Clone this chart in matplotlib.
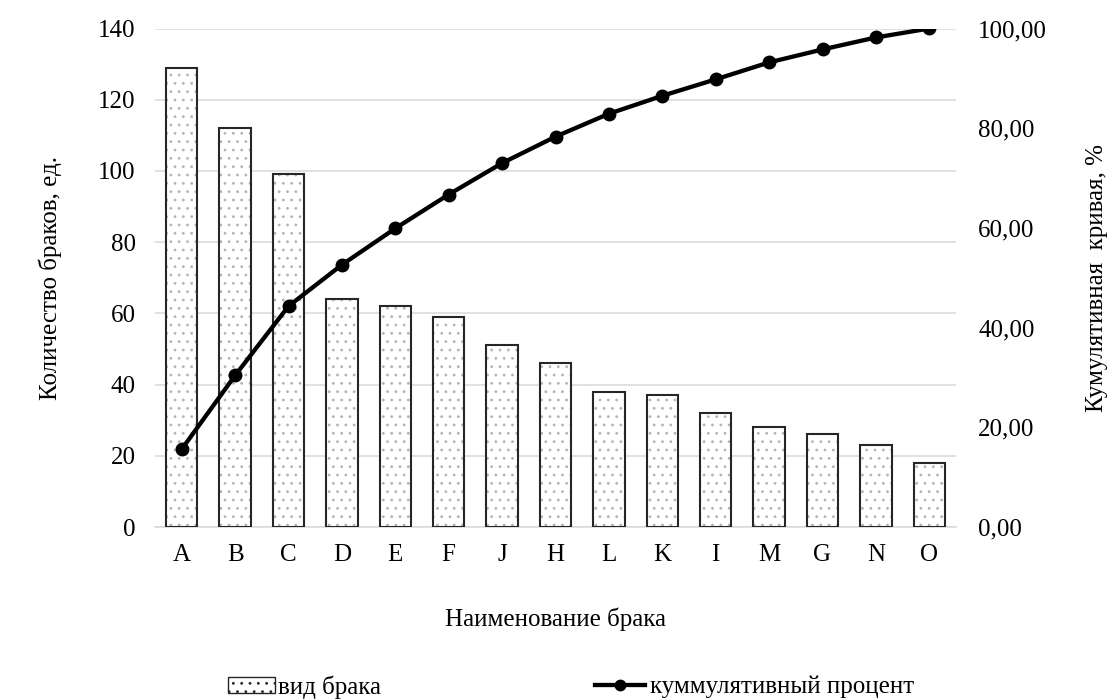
import matplotlib
matplotlib.use("Agg")
from matplotlib import pyplot as plt
from matplotlib.patches import Patch
from matplotlib.lines import Line2D
from matplotlib.ticker import FuncFormatter

# Данные диаграммы Парето
categories = ["A", "B", "C", "D", "E", "F", "J", "H", "L", "K", "I", "M", "G", "N", "O"]
counts = [129, 112, 99, 64, 62, 59, 51, 46, 38, 37, 32, 28, 26, 23, 18]
cum_percent = [15.6, 30.4, 44.3, 52.6, 59.9, 66.7, 73.0, 78.3, 82.9, 86.5,
               89.8, 93.2, 95.8, 98.2, 100.0]
left_ticks = [0, 20, 40, 60, 80, 100, 120, 140]
right_ticks = [0, 20, 40, 60, 80, 100]

plt.rcParams['font.family'] = ['Liberation Serif', 'DejaVu Serif']
plt.rcParams['hatch.linewidth'] = 0.8
FS = 18

fig = plt.figure(figsize=(11.15, 7.0), dpi=100)
ax = fig.add_axes([155 / 1115, 1 - 527 / 700, 801 / 1115, 498.5 / 700])
x = range(len(categories))

# штриховка точками (серая) + чёрный контур поверх
ax.bar(x, counts, width=0.59, color="white", edgecolor="#b4b4b4",
       linewidth=0, hatch="..", zorder=2)
ax.bar(x, counts, width=0.59, fill=False, edgecolor="#262626",
       linewidth=1.5, zorder=3)

ax.set_xlim(-0.5, len(categories) - 0.5)
ax.set_ylim(0, 140)
ax.set_yticks(left_ticks)
ax.set_xticks(list(x))
ax.set_xticklabels(categories)
ax.grid(axis="y", color="#d9d9d9", linewidth=1.1, zorder=0)
ax.set_axisbelow(True)
for s in ["top", "right", "left"]:
    ax.spines[s].set_visible(False)
ax.spines["bottom"].set_color("#d9d9d9")
ax.spines["bottom"].set_linewidth(1.1)
ax.tick_params(length=0, labelsize=FS, colors="#000000")
ax.tick_params(axis="y", pad=14)
ax.tick_params(axis="x", pad=12)
ax.set_ylabel("Количество браков, ед.", fontsize=FS, labelpad=26)
ax.set_xlabel("Наименование брака", fontsize=FS, labelpad=30)

ax2 = ax.twinx()
ax2.plot(x, cum_percent, color="black", linewidth=3.1, marker="o",
         markersize=9, zorder=5)
ax2.set_ylim(0, 100)
ax2.set_yticks(right_ticks)
ax2.yaxis.set_major_formatter(FuncFormatter(lambda v, p: f"{v:.2f}".replace(".", ",")))
for s in ax2.spines.values():
    s.set_visible(False)
ax2.tick_params(length=0, labelsize=FS, pad=16)
ax2.set_ylabel("Кумулятивная  кривая, %", fontsize=FS, labelpad=28)

# легенда
h1 = Patch(facecolor="white", edgecolor="#262626", hatch="..", linewidth=1.0)
h2 = Line2D([], [], color="black", linewidth=3.1, marker="o", markersize=7.5)
fig.legend([h1], ["вид брака"], loc="center left", bbox_to_anchor=(228 / 1115, 1 - 687 / 700),
           frameon=False, fontsize=FS, borderpad=0, borderaxespad=0,
           handlelength=1.88, handleheight=0.6, handletextpad=0.1)
fig.legend([h2], ["куммулятивный процент"], loc="center left",
           bbox_to_anchor=(595 / 1115, 1 - 687 / 700),
           frameon=False, fontsize=FS, borderpad=0, borderaxespad=0,
           handlelength=2.0, handletextpad=0.2)

fig.savefig("out.png", dpi=100)
